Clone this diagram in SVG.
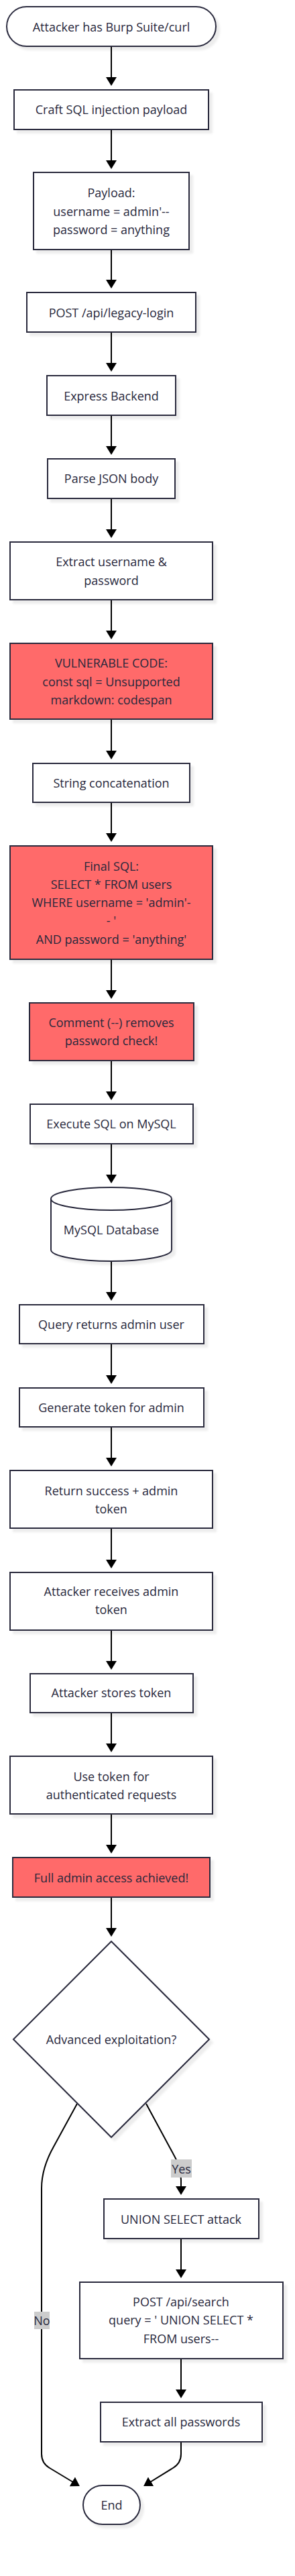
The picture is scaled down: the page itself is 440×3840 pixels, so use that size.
<svg xmlns="http://www.w3.org/2000/svg" width="440" height="3840" viewBox="0 0 440 3840">
<defs>
<style>
.n{fill:#ffffff;stroke:#2a2a3e;stroke-width:2;filter:url(#sh)}
.r{fill:#ff6b6b;stroke:#2a2a3e;stroke-width:2;filter:url(#sh)}
.t{font-family:"Open Sans","Noto Sans",sans-serif;font-size:18px;fill:#28283c;text-anchor:middle;dominant-baseline:central}
.e{fill:none;stroke:#000000;stroke-width:2;marker-end:url(#ah)}
.lb{fill:#cccccc}
</style>
<filter id="sh" x="-10%" y="-10%" width="130%" height="130%">
<feDropShadow dx="5" dy="5" stdDeviation="1.5" flood-color="#000000" flood-opacity="0.07"/>
</filter>
<marker id="ah" markerUnits="userSpaceOnUse" viewBox="0 0 13 16" refX="9" refY="8" markerWidth="13" markerHeight="16" orient="auto">
<path d="M0,0 L13,8 L0,16 z" fill="#000000"/>
</marker>
</defs>
<rect width="440" height="3840" fill="#ffffff"/>
<g id="connectors">
<path class="e" d="M166,69 L166,124"/>
<path class="e" d="M166,193 L166,248"/>
<path class="e" d="M166,372 L166,426"/>
<path class="e" d="M166,495 L166,550"/>
<path class="e" d="M166,619 L166,674"/>
<path class="e" d="M166,743 L166,798"/>
<path class="e" d="M166,894 L166,949"/>
<path class="e" d="M166,1072 L166,1128"/>
<path class="e" d="M166,1196 L166,1251"/>
<path class="e" d="M166,1430 L166,1485"/>
<path class="e" d="M166,1581 L166,1636"/>
<path class="e" d="M166,1705 L166,1760"/>
<path class="e" d="M166,1880 L166,1935"/>
<path class="e" d="M166,2003 L166,2059"/>
<path class="e" d="M166,2127 L166,2182"/>
<path class="e" d="M166,2278 L166,2334"/>
<path class="e" d="M166,2430 L166,2485"/>
<path class="e" d="M166,2553 L166,2608"/>
<path class="e" d="M166,2704 L166,2759"/>
<path class="e" d="M166,2828 L166,2883"/>
<path class="e" d="M218,3136 L258,3210 Q270,3230 270,3250 L270,3268"/>
<path class="e" d="M115,3136 L80,3200 Q62,3232 62,3262 L62,3658 Q62,3672 74,3679 L115.5,3704"/>
<path class="e" d="M270,3337 L270,3392"/>
<path class="e" d="M270,3516 L270,3571"/>
<path class="e" d="M270,3640 L270,3658 Q270,3672 258,3679 L217.5,3704"/>
<g id="label-yes"><rect class="lb" x="255" y="3219" width="31" height="27"/><text class="t" x="270.5" y="3232.5">Yes</text></g>
<g id="label-no"><rect class="lb" x="51" y="3446" width="23" height="26"/><text class="t" x="62.5" y="3459">No</text></g>
</g>
<g id="n1"><rect class="n" x="10" y="10" width="312" height="59" rx="29.5" ry="29.5"/><text class="t" x="166" y="40">Attacker has Burp Suite/curl</text></g>
<g id="n2"><rect class="n" x="21" y="134" width="290" height="59"/><text class="t" x="166" y="163">Craft SQL injection payload</text></g>
<g id="n3"><rect class="n" x="50" y="257" width="232" height="115"/><text class="t" x="166" y="287">Payload:</text><text class="t" x="166" y="315">username = admin'--</text><text class="t" x="166" y="342">password = anything</text></g>
<g id="n4"><rect class="n" x="40" y="436" width="252" height="59"/><text class="t" x="166" y="466">POST /api/legacy-login</text></g>
<g id="n5"><rect class="n" x="70" y="560" width="192" height="59"/><text class="t" x="166" y="590">Express Backend</text></g>
<g id="n6"><rect class="n" x="71" y="684" width="190" height="59"/><text class="t" x="166" y="713">Parse JSON body</text></g>
<g id="n7"><rect class="n" x="15" y="808" width="302" height="86"/><text class="t" x="166" y="837">Extract username &amp;</text><text class="t" x="166" y="865">password</text></g>
<g id="n8"><rect class="r" x="15" y="959" width="302" height="113"/><text class="t" x="166" y="988">VULNERABLE CODE:</text><text class="t" x="166" y="1016">const sql = Unsupported</text><text class="t" x="166" y="1043">markdown: codespan</text></g>
<g id="n9"><rect class="n" x="49" y="1138" width="234" height="58"/><text class="t" x="166" y="1167">String concatenation</text></g>
<g id="n10"><rect class="r" x="15" y="1261" width="302" height="169"/><text class="t" x="166" y="1291">Final SQL:</text><text class="t" x="166" y="1318">SELECT * FROM users</text><text class="t" x="166" y="1345">WHERE username = 'admin'-</text><text class="t" x="166" y="1372">- '</text><text class="t" x="166" y="1400">AND password = 'anything'</text></g>
<g id="n11"><rect class="r" x="44" y="1495" width="245" height="86"/><text class="t" x="166" y="1524">Comment (--) removes</text><text class="t" x="166" y="1551">password check!</text></g>
<g id="n12"><rect class="n" x="45" y="1646" width="243" height="59"/><text class="t" x="166" y="1675">Execute SQL on MySQL</text></g>
<g id="n13"><path class="n" d="M76,1787 A90,17 0 0 0 256,1787 A90,17 0 0 0 76,1787 L76,1863 A90,17 0 0 0 256,1863 L256,1787"/><text class="t" x="166" y="1833">MySQL Database</text></g>
<g id="n14"><rect class="n" x="29" y="1945" width="275" height="58"/><text class="t" x="166" y="1974">Query returns admin user</text></g>
<g id="n15"><rect class="n" x="29" y="2069" width="275" height="58"/><text class="t" x="166" y="2098">Generate token for admin</text></g>
<g id="n16"><rect class="n" x="15" y="2192" width="302" height="86"/><text class="t" x="166" y="2222">Return success + admin</text><text class="t" x="166" y="2249">token</text></g>
<g id="n17"><rect class="n" x="15" y="2344" width="302" height="86"/><text class="t" x="166" y="2372">Attacker receives admin</text><text class="t" x="166" y="2399">token</text></g>
<g id="n18"><rect class="n" x="45" y="2495" width="243" height="58"/><text class="t" x="166" y="2523">Attacker stores token</text></g>
<g id="n19"><rect class="n" x="15" y="2618" width="302" height="86"/><text class="t" x="166" y="2648">Use token for</text><text class="t" x="166" y="2675">authenticated requests</text></g>
<g id="n20"><rect class="r" x="19" y="2769" width="294" height="59"/><text class="t" x="166" y="2799">Full admin access achieved!</text></g>
<g id="n21"><path class="n" d="M166,2894 L312,3040 L166,3186 L20,3040 Z"/><text class="t" x="166" y="3040">Advanced exploitation?</text></g>
<g id="n22"><rect class="n" x="155" y="3278" width="231" height="59"/><text class="t" x="270" y="3308">UNION SELECT attack</text></g>
<g id="n23"><rect class="n" x="119" y="3402" width="303" height="114"/><text class="t" x="270" y="3431">POST /api/search</text><text class="t" x="270" y="3458">query = ' UNION SELECT *</text><text class="t" x="270" y="3486">FROM users--</text></g>
<g id="n24"><rect class="n" x="150" y="3581" width="241" height="59"/><text class="t" x="270" y="3610">Extract all passwords</text></g>
<g id="n25"><rect class="n" x="124" y="3705" width="85" height="58" rx="29" ry="29"/><text class="t" x="166.5" y="3734">End</text></g>
</svg>
